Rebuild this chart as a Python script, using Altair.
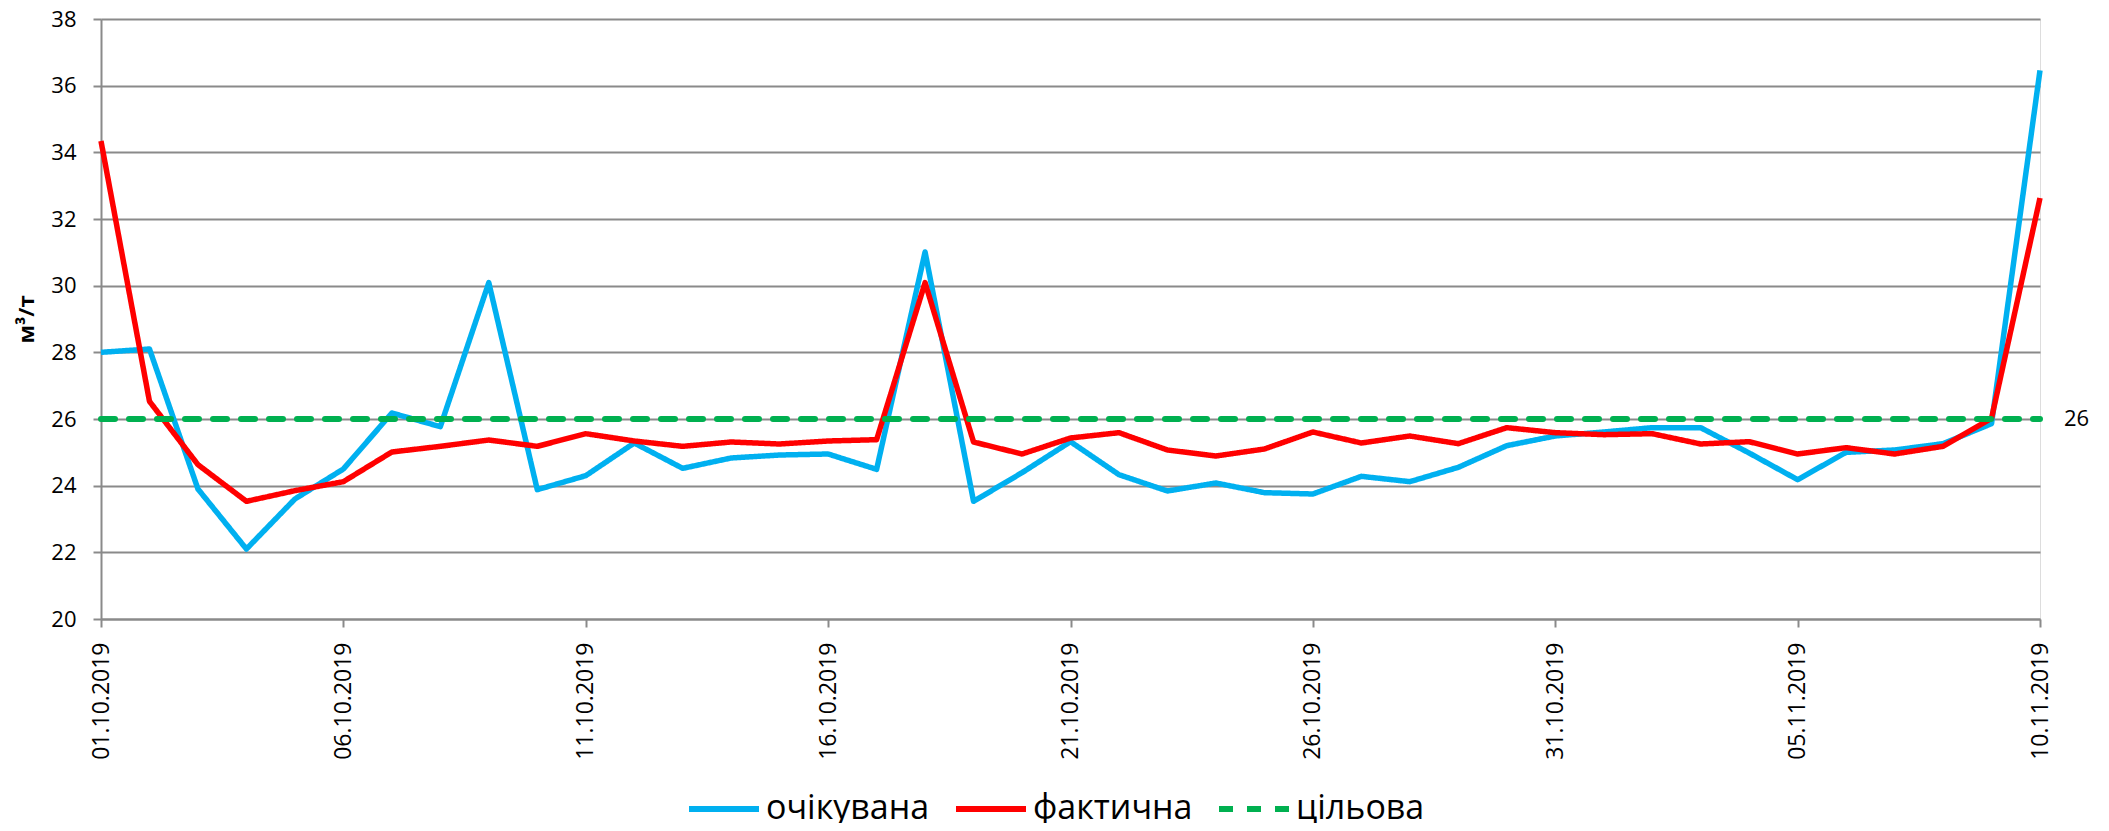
import altair as alt
import pandas as pd

DATES = [d.strftime("%d.%m.%Y") for d in pd.date_range("2019-10-01", "2019-11-10")]
TICKS = DATES[::5]
SERIES = ["очікувана", "фактична", "цільова"]
EXPECTED = [28.0, 28.1, 23.9, 22.1, 23.6, 24.5, 26.18, 25.77, 30.09, 23.88,
            24.3, 25.28, 24.52, 24.83, 24.92, 24.95, 24.49, 31.01, 23.53, 24.39,
            25.32, 24.33, 23.84, 24.08, 23.79, 23.75, 24.28, 24.12, 24.55, 25.2,
            25.49, 25.61, 25.74, 25.74, 24.98, 24.18, 25.0, 25.07, 25.26, 25.86,
            36.46]
ACTUAL = [34.34, 26.53, 24.63, 23.53, 23.85, 24.12, 25.01, 25.18, 25.37, 25.18,
          25.56, 25.34, 25.18, 25.31, 25.25, 25.34, 25.38, 30.09, 25.31, 24.95,
          25.43, 25.59, 25.07, 24.89, 25.1, 25.61, 25.28, 25.49, 25.26, 25.74,
          25.59, 25.53, 25.56, 25.25, 25.32, 24.95, 25.14, 24.95, 25.18, 26.02,
          32.63]
TARGET = 26
COLORS = ["#00B0F0", "#FF0000", "#00B050"]
DASHES = [[1, 0], [1, 0], [14, 14]]

rows = []
for d, e, a in zip(DATES, EXPECTED, ACTUAL):
    rows.append({"date": d, "series": SERIES[0], "value": e})
    rows.append({"date": d, "series": SERIES[1], "value": a})
    rows.append({"date": d, "series": SERIES[2], "value": TARGET})
df = pd.DataFrame(rows)
lab = pd.DataFrame({"date": [DATES[-1]], "value": [TARGET], "label": [str(TARGET)]})

FONT = "Open Sans"
GRID = "#8a8a8a"

x = alt.X("date:O", sort=DATES, title=None,
          scale=alt.Scale(type="point", padding=0),
          axis=alt.Axis(values=TICKS, labelAngle=-90, labelFontSize=23, labelColor="black",
                        labelPadding=15, tickSize=8, tickColor=GRID, tickWidth=2,
                        domainColor=GRID, domainWidth=2, grid=False, labelFont=FONT))
y = alt.Y("value:Q", title="м³/т",
          scale=alt.Scale(domain=[20, 38], nice=False, zero=False),
          axis=alt.Axis(values=list(range(20, 39, 2)), labelFontSize=22, labelColor="black",
                        labelPadding=17, tickSize=8, tickColor=GRID, tickWidth=2,
                        domainColor=GRID, domainWidth=2, grid=True, gridColor=GRID,
                        gridWidth=2, titleFontSize=22, titleFontWeight="bold",
                        titleColor="black", titlePadding=12, labelFont=FONT, titleFont=FONT))
LEG = dict(title=None, orient="none", legendX=585, legendY=752,
           direction="horizontal", symbolType="stroke",
           symbolSize=4900, symbolStrokeWidth=6,
           labelFontSize=34, labelFont=FONT, labelColor="black", labelLimit=0,
           labelOffset=4, columnPadding=14, padding=0)
color = alt.Color("series:N", sort=SERIES,
                  scale=alt.Scale(domain=SERIES, range=COLORS),
                  legend=alt.Legend(**LEG))
dash = alt.StrokeDash("series:N", sort=SERIES,
                      scale=alt.Scale(domain=SERIES, range=DASHES),
                      legend=alt.Legend(**LEG))

lines = alt.Chart(df).transform_filter(
    alt.FieldOneOfPredicate(field="series", oneOf=SERIES[:2])
).mark_line(strokeWidth=5.5, strokeJoin="round").encode(x=x, y=y, color=color, strokeDash=dash)
target = alt.Chart(df).transform_filter(
    alt.FieldEqualPredicate(field="series", equal=SERIES[2])
).mark_line(strokeWidth=6, strokeCap="round").encode(x=x, y=y, color=color, strokeDash=dash)
text = alt.Chart(lab).mark_text(align="left", baseline="middle", dx=24, fontSize=22,
                                font=FONT, color="black").encode(
    x=alt.X("date:O", sort=DATES), y=alt.Y("value:Q"), text="label:N")

chart = alt.layer(lines, target, text).properties(
    width=1939, height=600,
    padding={"left": 93, "top": 11, "right": 61, "bottom": 204},
    autosize=alt.AutoSizeParams(type="none"),
).configure_view(strokeWidth=0).configure(font=FONT)

chart.save("out.html", embed_options={"renderer": "svg", "actions": False})
